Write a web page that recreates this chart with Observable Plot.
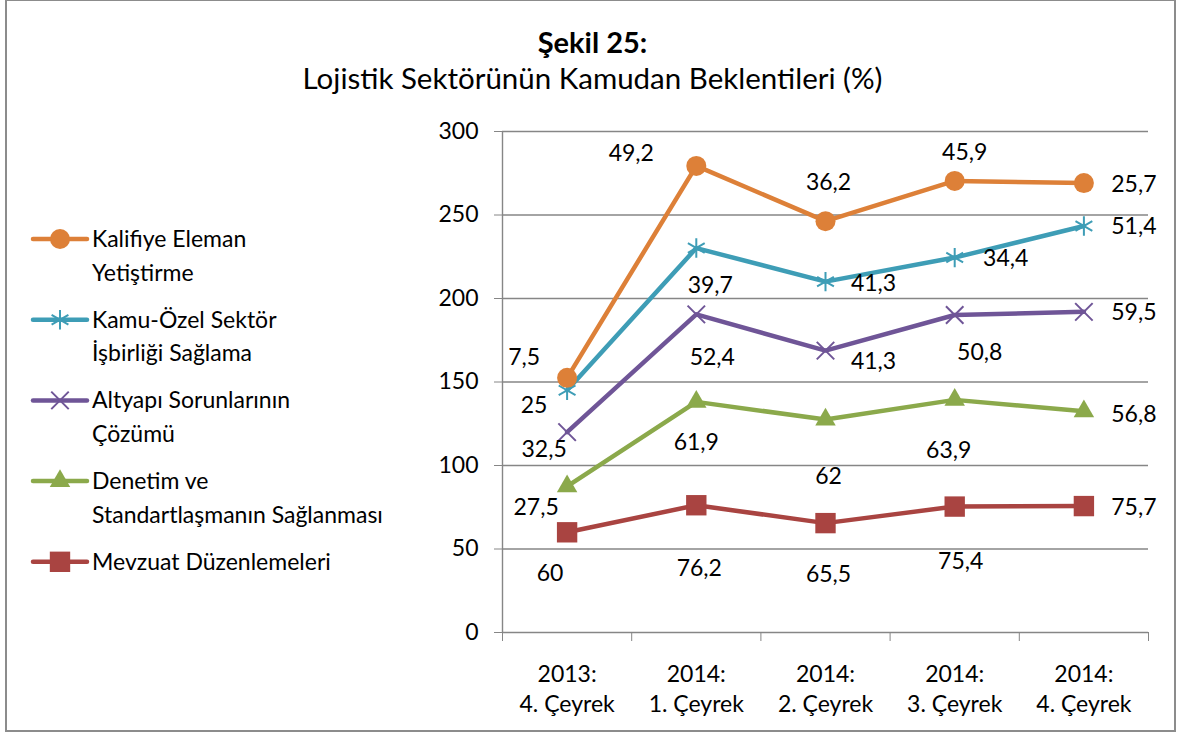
<!DOCTYPE html>
<html><head><meta charset="utf-8">
<script src="https://cdn.jsdelivr.net/npm/d3@7"></script>
<script src="https://cdn.jsdelivr.net/npm/@observablehq/plot@0.6"></script>
<style>
body{margin:0;background:#fff;font-family:Lato,"Open Sans",sans-serif;}
#wrap{position:relative;width:1177px;height:733px;overflow:hidden;background:#fff;}
#frame{position:absolute;left:5px;top:-1px;width:1171px;height:733px;border:2px solid #8c8c8c;box-sizing:border-box;pointer-events:none;}
.t{position:absolute;left:4px;width:1177px;text-align:center;color:#000;white-space:nowrap;}
#title{top:24px;height:36px;line-height:36px;font-size:29px;font-weight:bold;}
#subtitle{top:60px;height:36px;line-height:36px;font-size:29.5px;}
#chart{position:absolute;left:0;top:0;}
#legend{position:absolute;left:0;top:0;}
</style>
</head><body>
<div id="wrap">
  <div id="chart"></div>
  <svg id="legend" width="420" height="733"></svg>
  <div class="t" id="title">Şekil 25:</div>
  <div class="t" id="subtitle">Lojistik Sektörünün Kamudan Beklentileri (%)</div>
  <div id="frame"></div>
</div>
<script>
// ---- data ----
const categories = ["2013:\n4. Çeyrek", "2014:\n1. Çeyrek", "2014:\n2. Çeyrek", "2014:\n3. Çeyrek", "2014:\n4. Çeyrek"];
const seriesNames = ["Mevzuat Düzenlemeleri", "Denetim ve Standartlaşmanın Sağlanması", "Altyapı Sorunlarının Çözümü", "Kamu-Özel Sektör İşbirliği Sağlama", "Kalifiye Eleman Yetiştirme"];
const legendLabels = ["Mevzuat Düzenlemeleri", "Denetim ve\nStandartlaşmanın Sağlanması", "Altyapı Sorunlarının\nÇözümü", "Kamu-Özel Sektör\nİşbirliği Sağlama", "Kalifiye Eleman\nYetiştirme"];
const mevzuat  = [60, 76.2, 65.5, 75.4, 75.7];
const denetim  = [27.5, 61.9, 62, 63.9, 56.8];
const altyapi  = [32.5, 52.4, 41.3, 50.8, 59.5];
const kamuOzel = [25, 39.7, 41.3, 34.4, 51.4];
const kalifiye = [7.5, 49.2, 36.2, 45.9, 25.7];
const yTicks = [0, 50, 100, 150, 200, 250, 300];

// ---- styles ----
const seriesValues = [mevzuat, denetim, altyapi, kamuOzel, kalifiye];
const colors = ["#A94441", "#8BA94B", "#6F5597", "#3E9DB6", "#DD8038"];
const symbols = ["square", "triangle", "times", "asterisk", "circle"];
const symbolR = [11.5, 7.6, 8, 9.2, 10];
const filled = [true, true, false, false, true];
const labelOffsets = [
  [[-17, 41], [3, 63], [3, 52], [6, 55], [50, 2]],
  [[-31, 21], [0, 41], [3, 57], [-6, 51], [50, 3]],
  [[-23, 18], [16, 43], [48, 11], [25, 38], [50, 1]],
  [[-33, 15], [14, 38], [48, 2], [51, 1], [50, 1]],
  [[-43, -20], [-65, -12], [3, -39], [10, -28], [50, 2]]
];
const gray = "#868686";
const fontSize = 23;

// ---- build stacked rows ----
const cum = categories.map(() => 0);
const rows = [];
seriesValues.forEach((vals, s) => {
  vals.forEach((v, j) => {
    cum[j] += v;
    rows.push({s, j, x: j + 0.5, v, top: +cum[j].toFixed(2), label: String(v).replace(".", ",")});
  });
});

const marks = [];
marks.push(Plot.ruleY(yTicks.filter(d => d > 0), {stroke: gray, strokeWidth: 1.4}));
marks.push(Plot.ruleY([0], {stroke: gray, strokeWidth: 1.4}));
marks.push(Plot.ruleX([0], {y1: 0, y2: 300, stroke: gray, strokeWidth: 1.4}));
marks.push(Plot.axisY({ticks: yTicks, tickSize: 8, tickPadding: 16, stroke: gray, fontSize, fill: "#000", label: null}));
marks.push(Plot.axisX({ticks: d3.range(0, categories.length + 1), tickSize: 9, tickFormat: () => "", stroke: gray, label: null}));
marks.push(Plot.axisX({ticks: categories.map((c, j) => j + 0.5), tickSize: 0, tickPadding: 28, tickFormat: d => categories[Math.floor(d)], fontSize, lineHeight: 1.3, fill: "#000", label: null}));

seriesValues.forEach((vals, s) => {
  const data = rows.filter(r => r.s === s);
  marks.push(Plot.line(data, {x: "x", y: "top", stroke: colors[s], strokeWidth: 4.5, strokeLinejoin: "round"}));
  marks.push(Plot.dot(data, {
    x: "x", y: "top", symbol: symbols[s], r: symbolR[s],
    fill: filled[s] ? colors[s] : "none",
    stroke: colors[s], strokeWidth: filled[s] ? 0 : 2
  }));
});
rows.forEach(r => {
  const [dx, dy] = labelOffsets[r.s][r.j];
  marks.push(Plot.text([r], {x: "x", y: "top", text: "label", dx, dy, fontSize, fill: "#000"}));
});

const chart = Plot.plot({
  width: 1177, height: 733,
  marginLeft: 502, marginRight: 29, marginTop: 131, marginBottom: 101,
  style: {fontFamily: "Lato, 'Open Sans', sans-serif", background: "transparent"},
  x: {type: "linear", domain: [0, categories.length], axis: null},
  y: {domain: [0, 300], axis: null},
  marks
});
document.getElementById("chart").appendChild(chart);

// ---- legend ----
const leg = d3.select("#legend");
const order = [4, 3, 2, 1, 0];
const typeMap = {square: d3.symbolSquare, triangle: d3.symbolTriangle, times: d3.symbolTimes, asterisk: d3.symbolAsterisk, circle: d3.symbolCircle};
order.forEach((s, k) => {
  const cy = 239 + k * 80.7;
  const g = leg.append("g");
  g.append("line").attr("x1", 33).attr("x2", 87).attr("y1", cy).attr("y2", cy)
    .attr("stroke", colors[s]).attr("stroke-width", 4.5).attr("stroke-linecap", "round");
  g.append("path").attr("transform", `translate(60,${cy})`)
    .attr("d", d3.symbol(typeMap[symbols[s]], Math.PI * symbolR[s] * symbolR[s])())
    .attr("fill", filled[s] ? colors[s] : "none")
    .attr("stroke", filled[s] ? "none" : colors[s]).attr("stroke-width", 2);
  legendLabels[s].split("\n").forEach((line, li) => {
    g.append("text").attr("x", 92).attr("y", cy + li * 33.5).attr("dy", "0.35em")
      .attr("font-size", fontSize).attr("font-family", "Lato, 'Open Sans', sans-serif").attr("fill", "#000").text(line);
  });
});
</script>
</body></html>
